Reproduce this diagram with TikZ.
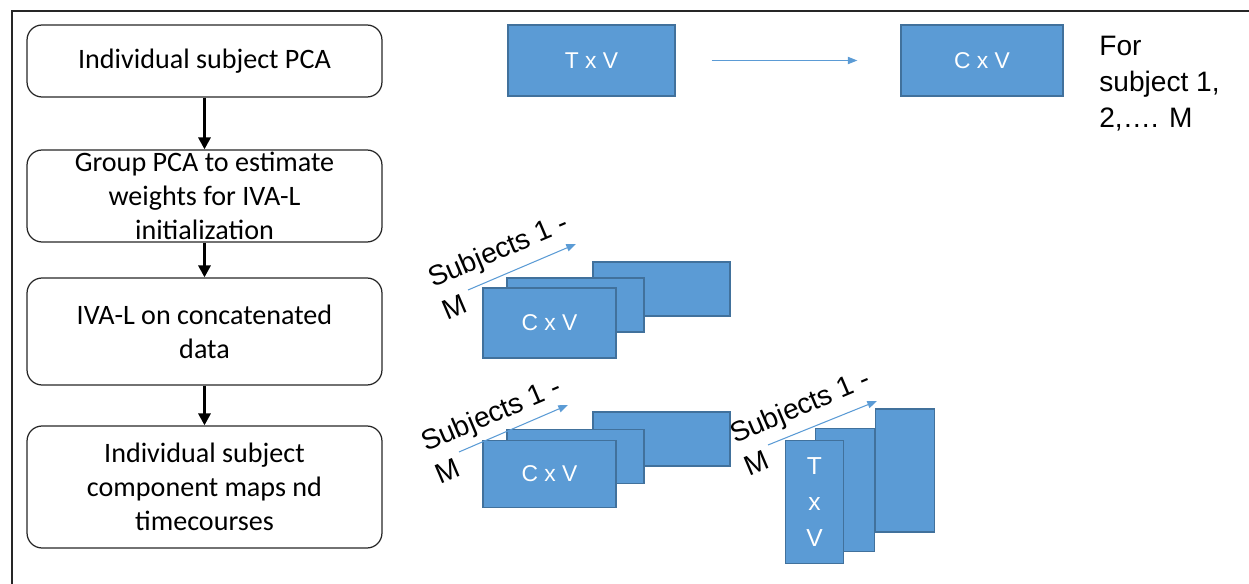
\documentclass[tikz,border=0pt]{standalone}
\usepackage{fontspec}
\setmainfont{Carlito}
\newfontfamily\arialfont{Liberation Sans}
\usetikzlibrary{arrows.meta}

\definecolor{ppblue}{HTML}{5B9BD5}
\definecolor{ppedge}{HTML}{41719C}

\tikzset{
  stage/.style={draw=black!85, line width=0.7pt, rounded corners=0.3cm,
    minimum width=7.1cm, inner sep=0pt},
  stagetext/.style={font=\fontsize{16}{19.3}\selectfont, align=center, inner sep=0pt},
  flow/.style={black, line width=1.7pt, -{Triangle[length=6.8pt,width=6.8pt]}},
  blk/.style={fill=ppblue, draw=ppedge, line width=0.7pt, inner sep=0pt,
    text=white, font=\arialfont\fontsize{13}{20}\selectfont},
  wideblk/.style={blk, minimum width=2.74cm, minimum height=1.08cm},
  tallblk/.style={blk, minimum width=1.17cm, minimum height=2.46cm, align=center},
  thin/.style={ppblue, line width=0.6pt, -{Triangle[length=5.5pt,width=4.2pt]}},
  subj/.style={font=\arialfont\fontsize{16}{19}\selectfont, rotate=23, inner sep=0pt},
  note/.style={font=\arialfont\fontsize{16}{20.5}\selectfont, align=left, inner sep=0pt}
}

\begin{document}
\begin{tikzpicture}[x=0.02cm,y=-0.02cm]
  \useasboundingbox (0,0) rectangle (1249,584);

  % frame
  \draw[black!85,line width=0.9pt] (12,584) -- (12,11) -- (1249,11);

  % pipeline steps on the left
  \node[stage,minimum height=1.44cm] (pca) at (204.5,61) {};
  \node[stage,minimum height=1.84cm] (grp) at (204.5,196) {};
  \node[stage,minimum height=2.14cm] (iva) at (204.5,331.5) {};
  \node[stage,minimum height=2.44cm] (maps) at (204.5,487) {};

  \node[stagetext] (pcat) at (pca) {Individual subject PCA};
  \node[stagetext] (grpt) at (grp) {Group PCA to estimate\\weights for IVA-L\\initialization};
  \node[stagetext] (ivat) at (iva) {IVA-L on concatenated\\data};
  \node[stagetext] (mapst) at (maps) {Individual subject\\component maps nd\\timecourses};

  \draw[flow] (pca) -- (grp);
  \draw[flow] (grp) -- (iva);
  \draw[flow] (iva) -- (maps);

  % per-subject reduction
  \node[blk,minimum width=3.34cm,minimum height=1.42cm] (tv) at (591.5,60.5) {T x V};
  \node[blk,minimum width=3.24cm,minimum height=1.42cm] (cv) at (982,60.5) {C x V};
  \draw[thin] ([xshift=0.72cm]tv.east) -- ([xshift=-0.86cm]cv.west);
  \node[note,anchor=north west] (forsub) at (1099,36) {For\\subject 1,\\2,…. M};

  % concatenated C x V stack
  \node[wideblk] (c1back) at (661.5,289) {};
  \node[wideblk] (c1mid) at (575.5,305) {};
  \node[blk,minimum width=2.66cm,minimum height=1.4cm] (c1front) at (549.5,323) {C x V};
  \coordinate (s1a) at (468,290);
  \coordinate (s1b) at (576,244);
  \draw[thin] (s1a) -- (s1b);
  \node[subj,anchor=base west] (s1lab) at (433,288) {Subjects 1 -};
  \node[subj,anchor=base west] (s1m) at (447,321) {M};

  % output maps stack
  \node[wideblk] (c2back) at (661.5,439) {};
  \node[wideblk] (c2mid) at (575.5,456.5) {};
  \node[blk,minimum width=2.66cm,minimum height=1.34cm] (c2front) at (549.5,474) {C x V};
  \coordinate (s2a) at (459,452);
  \coordinate (s2b) at (568,405);
  \draw[thin] (s2a) -- (s2b);
  \node[subj,anchor=base west] (s2lab) at (426,452) {Subjects 1 -};
  \node[subj,anchor=base west] (s2m) at (440,485) {M};

  % output timecourses stack
  \node[tallblk] (t3back) at (905,470.5) {};
  \node[tallblk] (t3mid) at (845,490) {};
  \node[tallblk,font=\arialfont\fontsize{14}{20.5}\selectfont] (t3front) at (814.5,502) {T\\x\\V};
  \coordinate (s3a) at (768,445);
  \coordinate (s3b) at (877,401);
  \draw[thin] (s3a) -- (s3b);
  \node[subj,anchor=base west] (s3lab) at (735,444) {Subjects 1 -};
  \node[subj,anchor=base west] (s3m) at (749,477) {M};
\end{tikzpicture}
\end{document}
